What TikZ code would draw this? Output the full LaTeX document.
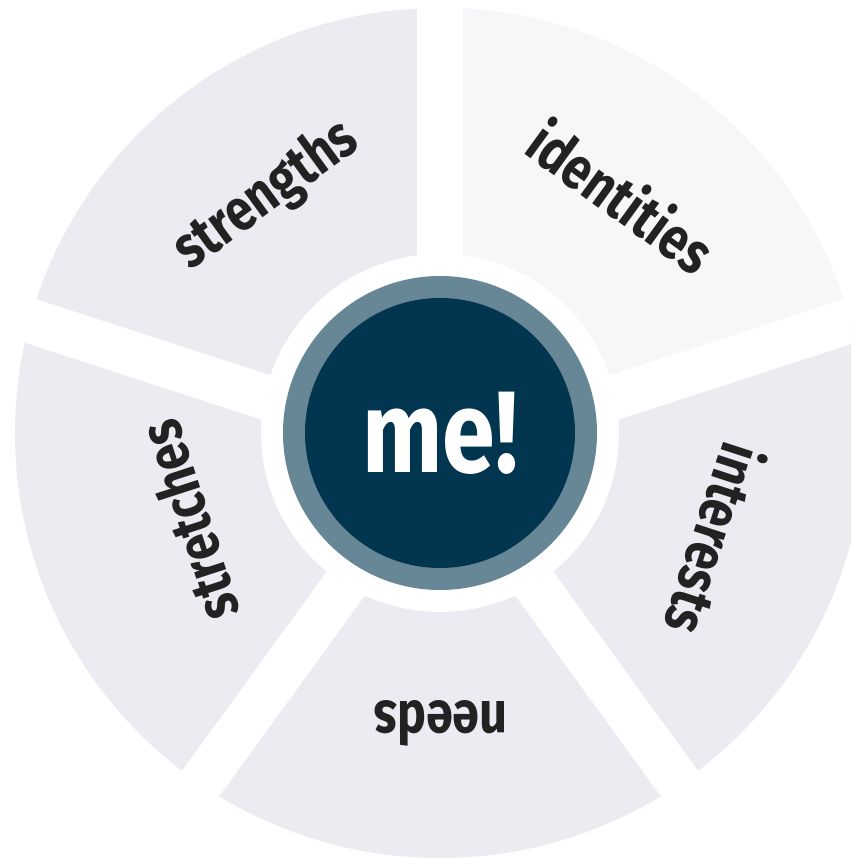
\documentclass[tikz,border=0pt]{standalone}
\usepackage{fontspec}
\usetikzlibrary{calc}
\setmainfont{Fira Sans}
\newfontfamily\labelfont[FakeStretch=0.82]{Fira Sans Bold}
\definecolor{segcol}{HTML}{EBEBF1}
\definecolor{seglight}{HTML}{F7F7FA}
\definecolor{ringcol}{HTML}{678797}
\definecolor{corecol}{HTML}{02354F}
\definecolor{txtcol}{HTML}{222222}
\tikzset{
  seglabel/.style={text=txtcol, font=\labelfont\fontsize{59}{59}\selectfont, inner sep=0pt, anchor=center},
  gapband/.style={draw=white, line width=45pt, line cap=butt},
}
\begin{document}
\begin{tikzpicture}[x=1pt,y=1pt]
\useasboundingbox (-440,-426) rectangle (411,433);
\clip (-440,-426) rectangle (411,433);
% wheel
\coordinate (O) at (0,0);
\coordinate (P) at (0,-21);
\fill[segcol] (O) circle[radius=425];
\begin{scope}
  \clip (O) circle[radius=425];
  \fill[seglight] (P) -- ($(P)+(18:900)$) -- ($(P)+(90:900)$) -- cycle;
\end{scope}
\foreach \a in {90,18,-54,-126,162}{
  \draw[gapband] (P) -- ($(P)+(\a:700)$);
}
\fill[white] (O) circle[radius=179];
\fill[ringcol] (O) circle[radius=157];
\node[circle, fill=corecol, minimum size=270pt, inner sep=0pt, text=white,
      font=\labelfont\fontsize{116}{116}\selectfont] (me) at (O) {me!};
\node[seglabel, rotate=36] (strengths) at (-173,237) {strengths};
\node[seglabel, rotate=-36] (identities) at (182,237) {identities};
\node[seglabel, rotate=-108] (interests) at (276,-107) {interests};
\node[seglabel, rotate=-180] (needs) at (1,-290) {needs};
\node[seglabel, rotate=108] (stretches) at (-252,-88) {stretches};
\end{tikzpicture}
\end{document}
